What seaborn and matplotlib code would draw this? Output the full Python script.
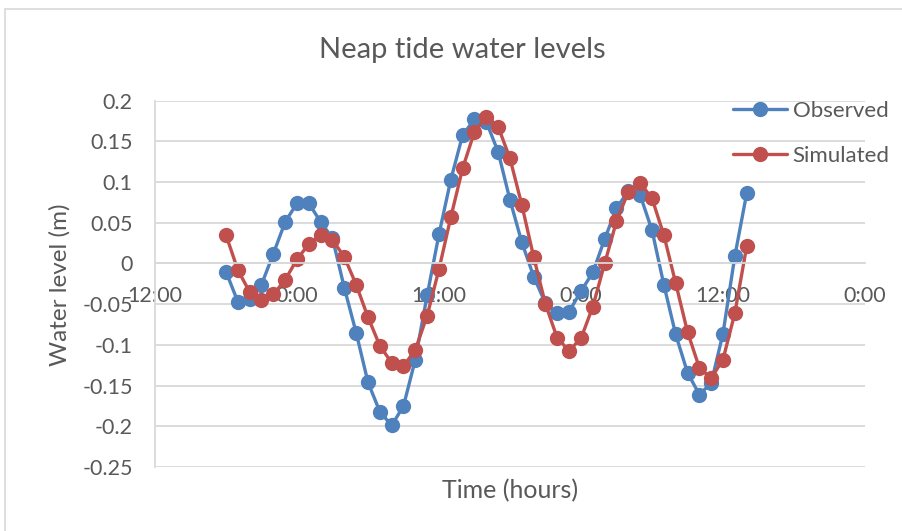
import numpy as np
import pandas as pd
import matplotlib
matplotlib.use("Agg")
import matplotlib.pyplot as plt
from matplotlib.patches import Rectangle
import seaborn as sns

# Hourly water levels (m), hours counted from the first 12:00 mark
hours = list(range(6, 51))
observed = [
    -0.010, -0.047, -0.044, -0.026, 0.012, 0.051, 0.074, 0.074, 0.051, 0.031,
    -0.030, -0.085, -0.146, -0.182, -0.199, -0.175, -0.118, -0.039, 0.036, 0.103,
    0.158, 0.177, 0.174, 0.137, 0.078, 0.026, -0.016, -0.049, -0.061, -0.059,
    -0.034, -0.011, 0.030, 0.068, 0.089, 0.084, 0.041, -0.026, -0.087, -0.134,
    -0.161, -0.147, -0.086, 0.009, 0.086,
]
simulated = [
    0.035, -0.008, -0.035, -0.045, -0.038, -0.020, 0.005, 0.024, 0.035, 0.029,
    0.008, -0.026, -0.066, -0.101, -0.122, -0.126, -0.106, -0.064, -0.007, 0.057,
    0.117, 0.162, 0.180, 0.168, 0.129, 0.072, 0.008, -0.050, -0.092, -0.107,
    -0.092, -0.053, 0.000, 0.052, 0.088, 0.099, 0.080, 0.035, -0.024, -0.084,
    -0.128, -0.141, -0.118, -0.061, 0.021,
]
series_names = ["Observed", "Simulated"]
x_tick_hours = [0, 12, 24, 36, 48, 60]
x_tick_labels = ["12:00", "0:00", "12:00", "0:00", "12:00", "0:00"]
y_ticks = [0.2, 0.15, 0.1, 0.05, 0, -0.05, -0.1, -0.15, -0.2, -0.25]
y_tick_labels = ["0.2", "0.15", "0.1", "0.05", "0", "-0.05", "-0.1", "-0.15", "-0.2", "-0.25"]

df = pd.DataFrame({
    "hour": hours * 2,
    "level": observed + simulated,
    "series": [series_names[0]] * len(hours) + [series_names[1]] * len(hours),
})

sns.set_theme(style="white")
plt.rcParams["font.family"] = ["Lato", "DejaVu Sans"]

TEXT = "#595959"
GRID = "#D9D9D9"
BLUE = "#4F81BD"
RED = "#C0504D"

W, H = 903, 531
fig = plt.figure(figsize=(W / 100, H / 100), dpi=100)
fig.patch.set_facecolor("white")

# chart-area border
fig.patches.append(Rectangle((5 / W, -0.2), 1.5, 1.2 - 9 / H, transform=fig.transFigure,
                             fill=False, edgecolor=GRID, linewidth=1.2, zorder=0))

left, right = 155 / W, 865 / W
bottom, top = 1 - 467 / H, 1 - 100.7 / H
ax = fig.add_axes([left, bottom, right - left, top - bottom])

sns.lineplot(data=df, x="hour", y="level", hue="series", hue_order=series_names,
             palette=[BLUE, RED], marker="o", markersize=11, markeredgewidth=0,
             linewidth=2.4, errorbar=None, ax=ax, legend=True)

ax.set_xlim(0, 60)
ax.set_ylim(-0.25, 0.2)
ax.set_yticks(y_ticks)
ax.set_yticklabels(y_tick_labels)
ax.set_xticks(x_tick_hours)
ax.set_xticklabels(x_tick_labels)
ax.grid(axis="y", color=GRID, linewidth=1.3)
ax.grid(axis="x", visible=False)
ax.set_axisbelow(True)
for s in ["top", "right"]:
    ax.spines[s].set_visible(False)
ax.spines["left"].set_color(GRID)
ax.spines["left"].set_linewidth(1.3)
ax.spines["bottom"].set_position(("data", 0))
ax.spines["bottom"].set_color(GRID)
ax.spines["bottom"].set_linewidth(1.3)
ax.tick_params(axis="both", length=0, labelsize=15.5, labelcolor=TEXT)
ax.tick_params(axis="y", pad=16)
ax.tick_params(axis="x", pad=16)
ax.set_xlabel("")
ax.set_ylabel("")

handles, labels = ax.get_legend_handles_labels()
ax.legend(handles, labels, loc="upper left", bbox_to_anchor=(733 / W, 1 - 101 / H),
          bbox_transform=fig.transFigure, frameon=False, fontsize=16,
          handlelength=2.45, handletextpad=0.23, labelspacing=1.12,
          borderpad=0, borderaxespad=0, labelcolor=TEXT)

fig.text(462 / W, 1 - 50 / H, "Neap tide water levels", ha="center", va="center",
         fontsize=21, color=TEXT)
fig.text(510 / W, 1 - 491 / H, "Time (hours)", ha="center", va="center",
         fontsize=18, color=TEXT)
fig.text(60 / W, 1 - 285 / H, "Water level (m)", ha="center", va="center",
         rotation=90, fontsize=17.5, color=TEXT)

fig.savefig("out.png", dpi=100)
